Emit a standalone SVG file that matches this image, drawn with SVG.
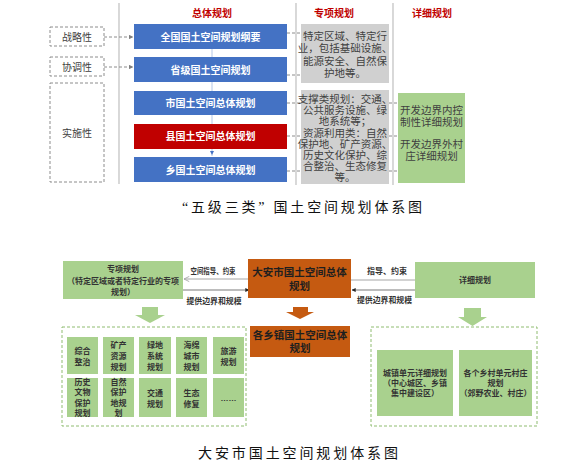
<svg xmlns="http://www.w3.org/2000/svg" width="584" height="473" viewBox="0 0 584 473">
<defs>
<style>
text{font-family:"Liberation Sans","Noto Sans CJK SC",sans-serif;text-anchor:middle;dominant-baseline:central}
.hdr{font-size:10px;font-weight:bold;fill:#c00000}
.blue{fill:#4472c4}
.red{fill:#c00000}
.wt{font-size:10px;font-weight:bold;fill:#ffffff}
.grey{fill:#d0d0d0}
.gt{font-size:10.5px;fill:#404040}
.green{fill:#a9d18e}
.lbl{fill:none;stroke:#8c8c8c;stroke-width:1;stroke-dasharray:3,2}
.lt{font-size:10px;fill:#404040}
.vline{stroke:#bfbfbf;stroke-width:1.2}
.dash{stroke:#7f7f7f;stroke-width:0.9;stroke-dasharray:3,2;fill:none}
.orange{fill:#c55a11}
.ot{font-size:10.5px;font-weight:bold;fill:#1f1f1f}
.bt{font-size:8px;font-weight:bold;fill:#333333}
.st{font-size:8px;font-weight:bold;fill:#333333}
.cont{fill:none;stroke:#8fbc70;stroke-width:1;stroke-dasharray:3,2}
.cap{font-family:"Liberation Serif","Noto Sans CJK SC",serif;font-size:14px;fill:#111111}
.conn{stroke:#a6a6a6;stroke-width:1;fill:none}
.connb{stroke:#595959;stroke-width:0.8;fill:none}
</style>
<marker id="ah" viewBox="0 0 6 6" refX="5.5" refY="3" markerWidth="5" markerHeight="5" orient="auto">
<path d="M0,0 L6,3 L0,6 z" fill="#7f7f7f"/>
</marker>
<marker id="ahb" viewBox="0 0 6 6" refX="5.5" refY="3" markerWidth="5" markerHeight="5" orient="auto">
<path d="M0,0 L6,3 L0,6 z" fill="#262626"/>
</marker>
<marker id="aho" viewBox="0 0 8 8" refX="7" refY="4" markerWidth="7" markerHeight="7" orient="auto">
<path d="M1,1 L7,4 L1,7" fill="none" stroke="#a6a6a6" stroke-width="1"/>
</marker>
</defs>
<rect width="584" height="473" fill="#ffffff"/>

<!-- ===== Top diagram ===== -->
<g id="top-grid">
<line class="vline" x1="119" y1="3" x2="119" y2="184"/>
<line class="vline" x1="296" y1="3" x2="296" y2="185"/>
<line class="vline" x1="393" y1="3" x2="393" y2="185"/>
<text class="hdr" x="212" y="13">总体规划</text>
<text class="hdr" x="334" y="13">专项规划</text>
<text class="hdr" x="432" y="13">详细规划</text>
</g>

<g id="connectors-top">
<line x1="212" y1="49" x2="212" y2="156" stroke="#b4c7e7" stroke-width="1"/>
<path d="M210,151 L214,151 L212,155 z" fill="#4472c4"/>
<line class="dash" x1="104" y1="37" x2="133" y2="37" marker-end="url(#ah)"/>
<line class="dash" x1="104" y1="67" x2="133" y2="67" marker-end="url(#ah)"/>
<line class="dash" x1="287" y1="33" x2="301" y2="33"/>
<line class="dash" x1="287" y1="75" x2="301" y2="75"/>
<line class="dash" x1="287" y1="103" x2="301" y2="103"/>
<line class="dash" x1="287" y1="136" x2="301" y2="136"/>
<line class="dash" x1="287" y1="171" x2="301" y2="171"/>
<line class="dash" x1="389" y1="103" x2="398" y2="103"/>
<line class="dash" x1="389" y1="136" x2="398" y2="136"/>
<line class="dash" x1="389" y1="171" x2="398" y2="171"/>
</g>

<g id="n-zhanlue"><rect class="lbl" x="50" y="27" width="54" height="19"/><text class="lt" x="77" y="37">战略性</text></g>
<g id="n-xietiao"><rect class="lbl" x="50" y="57" width="54" height="19"/><text class="lt" x="77" y="67">协调性</text></g>
<g id="n-shishi"><rect class="lbl" x="50" y="83" width="54" height="99"/><text class="lt" x="77" y="133">实施性</text></g>

<g id="n-quanguo"><rect class="blue" x="134" y="24" width="153" height="25"/><text class="wt" x="210.5" y="37">全国国土空间规划纲要</text></g>
<g id="n-shengji"><rect class="blue" x="134" y="57" width="153" height="25"/><text class="wt" x="210.5" y="70">省级国土空间规划</text></g>
<g id="n-shi"><rect class="blue" x="134" y="91" width="153" height="24"/><text class="wt" x="210.5" y="103">市国土空间总体规划</text></g>
<g id="n-xian"><rect class="red" x="134" y="124" width="153" height="25"/><text class="wt" x="210.5" y="136.5">县国土空间总体规划</text></g>
<g id="n-xiang"><rect class="blue" x="134" y="157" width="153" height="25"/><text class="wt" x="210.5" y="170">乡国土空间总体规划</text></g>

<g id="n-zhuanxiang1">
<rect class="grey" x="301" y="24" width="88" height="59"/>
<text class="gt" x="345" y="35.5">特定区域、特定行</text>
<text class="gt" x="345" y="48">业，包括基础设施、</text>
<text class="gt" x="345" y="60.5">能源安全、自然保</text>
<text class="gt" x="345" y="72.5">护地等。</text>
</g>
<g id="n-zhuanxiang2">
<rect class="grey" x="301" y="90" width="88" height="94"/>
<text class="gt" x="345" y="99">支撑类规划：交通、</text>
<text class="gt" x="345" y="110.2">公共服务设施、绿</text>
<text class="gt" x="345" y="121.4">地系统等；</text>
<text class="gt" x="345" y="132.6">资源利用类：自然</text>
<text class="gt" x="345" y="143.8">保护地、矿产资源、</text>
<text class="gt" x="345" y="155">历史文化保护、综</text>
<text class="gt" x="345" y="166.2">合整治、生态修复</text>
<text class="gt" x="345" y="177.4">等。</text>
</g>
<g id="n-xiangxi-top">
<rect class="green" x="398" y="93" width="67" height="90"/>
<text class="gt" x="431.5" y="110">开发边界内控</text>
<text class="gt" x="431.5" y="122">制性详细规划</text>
<text class="gt" x="431.5" y="144">开发边界外村</text>
<text class="gt" x="431.5" y="156">庄详细规划</text>
</g>

<text class="cap" x="302" y="207" textLength="240" lengthAdjust="spacing">“五级三类” 国土空间规划体系图</text>

<!-- ===== Bottom diagram ===== -->
<g id="connectors-bottom">
<line class="conn" x1="250" y1="279" x2="184" y2="279" marker-end="url(#aho)"/>
<line class="connb" x1="183" y1="290" x2="249" y2="290" marker-end="url(#ahb)"/>
<line class="conn" x1="351" y1="280" x2="415" y2="280"/>
<line class="connb" x1="415" y1="290" x2="352" y2="290" marker-end="url(#ahb)"/>
<text class="st" x="213" y="271" textLength="45" lengthAdjust="spacingAndGlyphs">空间指导、约束</text>
<text class="st" x="214" y="301" textLength="55" lengthAdjust="spacingAndGlyphs">提供边界和规模</text>
<text class="st" x="387" y="271" textLength="40" lengthAdjust="spacingAndGlyphs">指导、约束</text>
<text class="st" x="384.5" y="300" textLength="55" lengthAdjust="spacingAndGlyphs">提供边界和规模</text>
<path d="M142,307 L158,307 L158,315 L165,315 L150,323 L135,315 L142,315 z" fill="#a9d18e"/>
<path d="M293,307 L308,307 L308,312 L314,312 L300,319 L286,312 L293,312 z" fill="#c55a11"/>
<path d="M464,308 L481,308 L481,317 L487,317 L472.5,326 L458,317 L464,317 z" fill="#a9d18e"/>
</g>

<g id="n-zhuanxiang-b">
<rect class="green" x="63" y="261" width="120" height="38"/>
<text class="bt" x="123" y="269">专项规划</text>
<text class="bt" x="123" y="281">（特定区域或者特定行业的专项</text>
<text class="bt" x="123" y="292">规划）</text>
</g>
<g id="n-daan">
<rect class="orange" x="248" y="259" width="103" height="39"/>
<text class="ot" x="299.5" y="272">大安市国土空间总体</text>
<text class="ot" x="299.5" y="286">规划</text>
</g>
<g id="n-xiangzhen">
<rect class="orange" x="250" y="326" width="100" height="31"/>
<text class="ot" x="300" y="335">各乡镇国土空间总体</text>
<text class="ot" x="300" y="348">规划</text>
</g>
<g id="n-xiangxi-b">
<rect class="green" x="415" y="262" width="120" height="36"/>
<text class="bt" x="475" y="280">详细规划</text>
</g>

<g id="n-zhuanxiang-list">
<rect class="cont" x="62" y="327" width="184" height="99"/>
<g class="green">
<rect x="67" y="337" width="31" height="37"/><rect x="103" y="337" width="31" height="37"/><rect x="139" y="337" width="32" height="37"/><rect x="176" y="337" width="31" height="37"/><rect x="213" y="337" width="31" height="37"/>
<rect x="67" y="378" width="31" height="39"/><rect x="103" y="378" width="31" height="39"/><rect x="139" y="378" width="32" height="39"/><rect x="176" y="378" width="31" height="39"/><rect x="213" y="378" width="31" height="39"/>
</g>
<text class="bt" x="82.5" y="351">综合</text><text class="bt" x="82.5" y="362">整治</text>
<text class="bt" x="118.5" y="345">矿产</text><text class="bt" x="118.5" y="356">资源</text><text class="bt" x="118.5" y="367">规划</text>
<text class="bt" x="155" y="345">绿地</text><text class="bt" x="155" y="356">系统</text><text class="bt" x="155" y="367">规划</text>
<text class="bt" x="191.5" y="345">海绵</text><text class="bt" x="191.5" y="356">城市</text><text class="bt" x="191.5" y="367">规划</text>
<text class="bt" x="228.5" y="351">旅游</text><text class="bt" x="228.5" y="362">规划</text>
<text class="bt" x="82.5" y="382">历史</text><text class="bt" x="82.5" y="392.5">文物</text><text class="bt" x="82.5" y="403">保护</text><text class="bt" x="82.5" y="413">规划</text>
<text class="bt" x="118.5" y="382">自然</text><text class="bt" x="118.5" y="392.5">保护</text><text class="bt" x="118.5" y="403">地规</text><text class="bt" x="118.5" y="413">划</text>
<text class="bt" x="155" y="393">交通</text><text class="bt" x="155" y="404">规划</text>
<text class="bt" x="191.5" y="393">生态</text><text class="bt" x="191.5" y="404">修复</text>
<text class="bt" x="228.5" y="398">……</text>
</g>

<g id="n-xiangxi-list">
<rect class="cont" x="371" y="327" width="166" height="99"/>
<rect class="green" x="377" y="350" width="76" height="66"/>
<rect class="green" x="459" y="350" width="73" height="66"/>
<text class="bt" x="415" y="373">城镇单元详细规划</text>
<text class="bt" x="415" y="383">（中心城区、乡镇</text>
<text class="bt" x="415" y="393">集中建设区）</text>
<text class="bt" x="495.5" y="373">各个乡村单元村庄</text>
<text class="bt" x="495.5" y="383">规划</text>
<text class="bt" x="495.5" y="393">（郊野农业、村庄）</text>
</g>

<text class="cap" x="298" y="453" textLength="200" lengthAdjust="spacing">大安市国土空间规划体系图</text>
</svg>
